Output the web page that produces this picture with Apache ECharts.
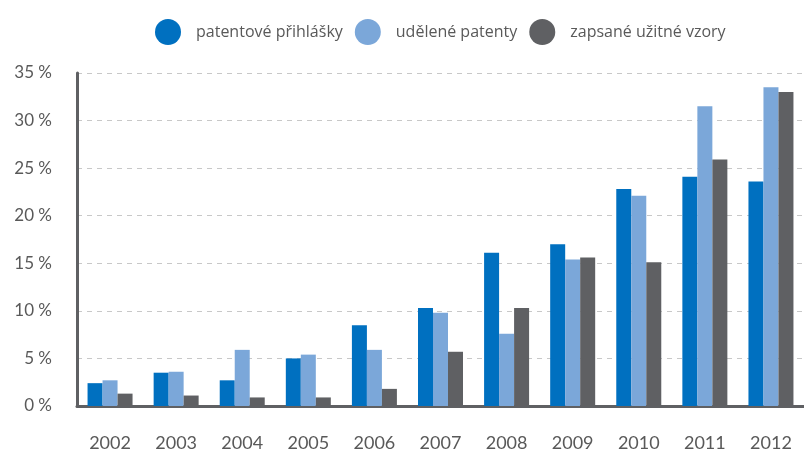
<!DOCTYPE html>
<html>
<head>
<meta charset="utf-8">
<script src="https://cdn.jsdelivr.net/npm/echarts@6/dist/echarts.min.js"></script>
<style>
  html, body { margin: 0; padding: 0; background: #fff; }
  #chart { width: 804px; height: 452px; }
</style>
</head>
<body>
<div id="chart"></div>
<script>
const years = ['2002', '2003', '2004', '2005', '2006', '2007', '2008', '2009', '2010', '2011', '2012']
const prihlasky = [2.4, 3.5, 2.7, 5.0, 8.5, 10.3, 16.1, 17.0, 22.8, 24.1, 23.6]
const udelene = [2.7, 3.6, 5.9, 5.4, 5.9, 9.8, 7.6, 15.4, 22.1, 31.5, 33.5]
const uzitneVzory = [1.3, 1.1, 0.9, 0.9, 1.8, 5.7, 10.3, 15.6, 15.1, 25.9, 33.0]
const yTicks = [0, 5, 10, 15, 20, 25, 30, 35]

const textColor = '#595959'
const fontFamily = '"Open Sans", Lato, sans-serif'

const chart = echarts.init(document.getElementById('chart'))

const makeSeries = (name, data, color) => ({
  name,
  type: 'bar',
  data,
  barWidth: 15,
  barGap: '0%',
  itemStyle: { color },
  emphasis: { disabled: true }
})

chart.setOption({
  animation: false,
  color: ['#0070c0', '#7ba7d9', '#5f6063'],
  legend: {
    top: 14,
    left: 150,
    icon: 'circle',
    itemWidth: 26,
    itemHeight: 26,
    itemGap: 12,
    textStyle: { color: textColor, fontSize: 16, fontFamily, padding: [0, 0, 0, 10] },
    data: ['patentové přihlášky', 'udělené patenty', 'zapsané užitné vzory']
  },
  grid: { left: 77, right: -5, top: 73, bottom: 45, containLabel: false },
  xAxis: {
    type: 'category',
    data: years,
    axisLine: { lineStyle: { color: '#5f6063', width: 3 } },
    axisTick: { show: false },
    axisLabel: { color: textColor, fontSize: 18, fontFamily: 'Lato, sans-serif', margin: 28 }
  },
  yAxis: {
    type: 'value',
    min: yTicks[0],
    max: yTicks[yTicks.length - 1],
    interval: 5,
    axisLine: { show: true, lineStyle: { color: '#5f6063', width: 3 } },
    axisTick: { show: false },
    axisLabel: {
      color: textColor, fontSize: 17, fontFamily: 'Lato, sans-serif', margin: 25,
      formatter: v => v + ' %'
    },
    splitLine: { lineStyle: { color: '#c8c8c8', type: [5, 5], width: 1 } }
  },
  series: [
    makeSeries('patentové přihlášky', prihlasky, '#0070c0'),
    makeSeries('udělené patenty', udelene, '#7ba7d9'),
    makeSeries('zapsané užitné vzory', uzitneVzory, '#5f6063')
  ]
})
</script>
</body>
</html>
